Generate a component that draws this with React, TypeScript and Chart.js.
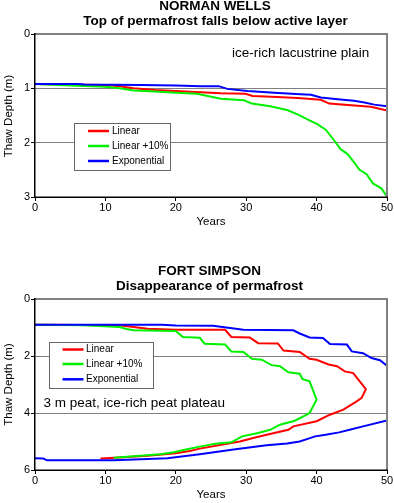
import React, { useEffect, useRef } from "react";
import { Chart, registerables } from "chart.js";
Chart.register(...registerables);

const FONT = '"Liberation Sans", Arial, Helvetica, sans-serif';
const RED = "#ff0000";
const GREEN = "#00f000";
const BLUE = "#0000ff";
const GRID = "#808080";

const seriesNames = ["Linear", "Linear +10%", "Exponential"];

// ---------- Norman Wells ----------
const nwXTicks = [0, 10, 20, 30, 40, 50];
const nwYTicks = [0, 1, 2, 3];
const nwLinearX = [0, 10, 12, 14, 17, 20, 23.5, 26.4, 29.9, 30.9, 34.4, 37.3, 40.6, 41.8, 44.9, 47.7, 50];
const nwLinearY = [0.92, 0.94, 0.96, 1.0, 1.03, 1.05, 1.07, 1.09, 1.1, 1.14, 1.16, 1.18, 1.21, 1.28, 1.31, 1.34, 1.41];
const nwPlusX = [0, 5, 10, 12, 14, 17, 20, 23, 26.4, 29.7, 30.8, 33.4, 35.8, 37.3, 38.7, 40.1, 41.3, 42.5, 43.4, 44.4, 45.3, 46.1, 47.1, 48.0, 49.2, 50];
const nwPlusY = [0.92, 0.95, 0.97, 1.0, 1.04, 1.06, 1.08, 1.1, 1.19, 1.22, 1.28, 1.33, 1.4, 1.48, 1.57, 1.66, 1.76, 1.96, 2.12, 2.21, 2.36, 2.5, 2.58, 2.75, 2.84, 2.99];
const nwExpX = [0, 6, 7, 15, 20, 23.5, 26.1, 27.3, 30.2, 34, 37.7, 39.2, 40.6, 43, 45.3, 46.8, 48.2, 50];
const nwExpY = [0.92, 0.92, 0.93, 0.94, 0.95, 0.96, 0.96, 1.01, 1.05, 1.08, 1.11, 1.12, 1.17, 1.2, 1.23, 1.26, 1.3, 1.33];

// ---------- Fort Simpson ----------
const fsXTicks = [0, 10, 20, 30, 40, 50];
const fsYTicks = [0, 2, 4, 6];
const fsLinearX = [0, 12, 14, 16, 20, 27, 27.9, 30.5, 31.7, 34.5, 35.3, 37.6, 39, 40, 41.7, 42.9, 44, 45.2, 47,
  46.4, 45.7, 43.8, 41.9, 40, 36.7, 36, 32.9, 31, 29.1, 27.9, 23.4, 22, 20, 16, 12, 9.3];
const fsLinearY = [0.9, 0.92, 0.98, 1.04, 1.08, 1.08, 1.33, 1.35, 1.55, 1.56, 1.81, 1.86, 2.1, 2.13, 2.3, 2.36, 2.54, 2.6, 3.16,
  3.47, 3.59, 3.88, 4.06, 4.29, 4.47, 4.59, 4.76, 4.88, 5.0, 5.05, 5.25, 5.33, 5.41, 5.5, 5.56, 5.6];
const fsPlusX = [0, 7, 12, 13, 14, 20, 21, 23.4, 24.1, 27, 27.9, 29.6, 30.8, 32.2, 33.6, 34.8, 36, 37.6, 38, 39, 40,
  39, 38.4, 36.9, 34.8, 33.4, 31.7, 29.4, 27.9, 25.6, 23.4, 21.6, 19.7, 17.8, 15, 11.2];
const fsPlusY = [0.9, 0.92, 0.98, 1.05, 1.1, 1.12, 1.33, 1.36, 1.57, 1.6, 1.84, 1.86, 2.1, 2.13, 2.32, 2.36, 2.57, 2.62, 2.81, 2.89, 3.53,
  4.0, 4.08, 4.27, 4.41, 4.59, 4.7, 4.82, 5.03, 5.08, 5.18, 5.27, 5.38, 5.45, 5.5, 5.57];
const fsExpX = [0, 18, 20, 25.3, 27.7, 29.6, 36.7, 37.6, 39, 40.9, 41.9, 44.3, 45, 46.6, 47.8, 49, 50,
  50, 46.6, 44.7, 43.2, 41.3, 39.8, 37.6, 35.8, 32.9, 28.2, 23.4, 18.8, 15, 11.2, 1.7, 1.2, 0];
const fsExpY = [0.9, 0.9, 0.93, 0.94, 1.02, 1.08, 1.1, 1.21, 1.35, 1.37, 1.58, 1.6, 1.84, 1.9, 2.07, 2.15, 2.34,
  4.26, 4.47, 4.59, 4.68, 4.76, 4.82, 5.0, 5.07, 5.13, 5.28, 5.45, 5.59, 5.62, 5.66, 5.66, 5.6, 5.59];

const pts = (xs: number[], ys: number[]) => xs.map((x, i) => ({ x, y: ys[i] }));

type TextItem = { t: string; x: number; y: number; font: string; align?: CanvasTextAlign; rot?: boolean };
type Decor = {
  texts: TextItem[];
  legend: { box: [number, number, number, number]; lineX: [number, number]; rows: number[]; textX: number };
};

function decorPlugin(d: Decor) {
  return {
    id: "decor",
    afterDatasetsDraw(chart: any) {
      const ctx = chart.ctx as CanvasRenderingContext2D;
      const a = chart.chartArea;
      ctx.save();
      // legend
      const [bx0, by0, bx1, by1] = d.legend.box;
      ctx.fillStyle = "#ffffff";
      ctx.fillRect(bx0, by0, bx1 - bx0, by1 - by0);
      ctx.strokeStyle = "#666666";
      ctx.lineWidth = 1;
      ctx.strokeRect(Math.round(bx0) + 0.5, Math.round(by0) + 0.5, Math.round(bx1 - bx0), Math.round(by1 - by0));
      const cols = [RED, GREEN, BLUE];
      ctx.font = `10px ${FONT}`;
      ctx.textBaseline = "middle";
      ctx.textAlign = "left";
      d.legend.rows.forEach((ry, i) => {
        ctx.strokeStyle = cols[i];
        ctx.lineWidth = 2.5;
        ctx.beginPath();
        ctx.moveTo(d.legend.lineX[0], ry);
        ctx.lineTo(d.legend.lineX[1], ry);
        ctx.stroke();
        ctx.fillStyle = "#000";
        ctx.fillText(seriesNames[i], d.legend.textX, ry);
      });
      // frame
      ctx.fillStyle = GRID;
      ctx.fillRect(a.left, a.top - 1, a.right - a.left + 1, 2);
      ctx.fillRect(a.right - 1, a.top - 1, 2, a.bottom - a.top + 1);
      ctx.fillStyle = "#000";
      ctx.fillRect(a.left - 1, a.top - 1, 1.5, a.bottom - a.top + 2);
      ctx.fillRect(a.left - 1, a.bottom - 0.5, a.right - a.left + 2, 1.5);
      ctx.restore();
    },
    afterDraw(chart: any) {
      const ctx = chart.ctx as CanvasRenderingContext2D;
      ctx.save();
      ctx.fillStyle = "#000";
      d.texts.forEach((it) => {
        ctx.font = it.font;
        ctx.textAlign = it.align || "center";
        if (it.rot) {
          ctx.save();
          ctx.translate(it.x, it.y);
          ctx.rotate(-Math.PI / 2);
          ctx.textBaseline = "middle";
          ctx.fillText(it.t, 0, 0);
          ctx.restore();
        } else {
          ctx.textBaseline = "alphabetic";
          ctx.fillText(it.t, it.x, it.y);
        }
      });
      ctx.restore();
    },
  };
}

function makeConfig(
  series: { x: number[]; y: number[] }[],
  xTicks: number[],
  yTicks: number[],
  padTop: number,
  padBottom: number,
  decor: Decor
): any {
  const cols = [RED, GREEN, BLUE];
  const tickFont = { family: FONT, size: 11 };
  return {
    type: "scatter",
    data: {
      datasets: series.map((s, i) => ({
        label: seriesNames[i],
        data: pts(s.x, s.y),
        showLine: true,
        borderColor: cols[i],
        backgroundColor: cols[i],
        borderWidth: 2,
        pointRadius: 0,
        tension: 0,
        order: 2 - i,
      })),
    },
    options: {
      animation: false,
      responsive: false,
      devicePixelRatio: 1,
      layout: { padding: { top: padTop, bottom: padBottom, left: 0, right: 7 } },
      plugins: { legend: { display: false }, title: { display: false }, tooltip: { enabled: false } },
      scales: {
        x: {
          type: "linear",
          min: xTicks[0],
          max: xTicks[xTicks.length - 1],
          afterBuildTicks: (sc: any) => {
            sc.ticks = xTicks.map((v) => ({ value: v }));
          },
          afterFit: (sc: any) => {
            sc.height = 20;
          },
          grid: { drawOnChartArea: false, drawTicks: true, tickLength: 4, tickColor: "#000", color: "#000" },
          border: { display: false },
          ticks: { font: tickFont, color: "#000", padding: 0, maxRotation: 0 },
        },
        y: {
          type: "linear",
          reverse: true,
          min: yTicks[0],
          max: yTicks[yTicks.length - 1],
          afterBuildTicks: (sc: any) => {
            sc.ticks = yTicks.map((v) => ({ value: v }));
          },
          afterFit: (sc: any) => {
            sc.width = 35;
          },
          grid: { color: GRID, lineWidth: 1, drawTicks: true, tickLength: 4, tickColor: "#000" },
          border: { display: false },
          ticks: { font: tickFont, color: "#000", padding: 1 },
        },
      },
    },
    plugins: [decorPlugin(decor)],
  };
}

function ChartCanvas({ config, height, top }: { config: any; height: number; top: number }) {
  const ref = useRef<HTMLCanvasElement | null>(null);
  useEffect(() => {
    if (!ref.current) return;
    const c = new Chart(ref.current, config);
    return () => c.destroy();
  }, [config]);
  return (
    <canvas
      ref={ref}
      width={394}
      height={height}
      style={{ position: "absolute", left: 0, top, width: 394, height }}
    />
  );
}

const TITLE = `bold 13.5px ${FONT}`;
const NOTE = `13.5px ${FONT}`;
const AXIS = `11.5px ${FONT}`;

const nwConfig = makeConfig(
  [
    { x: nwLinearX, y: nwLinearY },
    { x: nwPlusX, y: nwPlusY },
    { x: nwExpX, y: nwExpY },
  ],
  nwXTicks,
  nwYTicks,
  34,
  33,
  {
    texts: [
      { t: "NORMAN WELLS", x: 215, y: 10, font: TITLE },
      { t: "Top of permafrost falls below active layer", x: 215.5, y: 24.5, font: TITLE },
      { t: "ice-rich lacustrine plain", x: 232, y: 57, font: NOTE, align: "left" },
      { t: "Years", x: 211, y: 224.5, font: AXIS },
      { t: "Thaw Depth (m)", x: 8.5, y: 116, font: AXIS, rot: true },
    ],
    legend: { box: [74, 123, 170, 170], lineX: [88, 109], rows: [131, 146, 161], textX: 112 },
  }
);

const fsConfig = makeConfig(
  [
    { x: fsLinearX, y: fsLinearY },
    { x: fsPlusX, y: fsPlusY },
    { x: fsExpX, y: fsExpY },
  ],
  fsXTicks,
  fsYTicks,
  49,
  13,
  {
    texts: [
      { t: "FORT SIMPSON", x: 209.5, y: 24.5, font: TITLE },
      { t: "Disappearance of permafrost", x: 209.5, y: 39.5, font: TITLE },
      { t: "3 m peat, ice-rich peat plateau", x: 43.5, y: 157, font: NOTE, align: "left" },
      { t: "Years", x: 211, y: 247.5, font: AXIS },
      { t: "Thaw Depth (m)", x: 8.5, y: 134.5, font: AXIS, rot: true },
    ],
    legend: { box: [49, 92, 153, 138], lineX: [62.5, 83.5], rows: [99.5, 114, 129.3], textX: 86 },
  }
);

export default function App() {
  return (
    <div style={{ position: "absolute", left: 0, top: 0, width: 394, height: 503, background: "#fff", overflow: "hidden" }}>
      <ChartCanvas config={nwConfig} height={250} top={0} />
      <ChartCanvas config={fsConfig} height={253} top={250} />
    </div>
  );
}
